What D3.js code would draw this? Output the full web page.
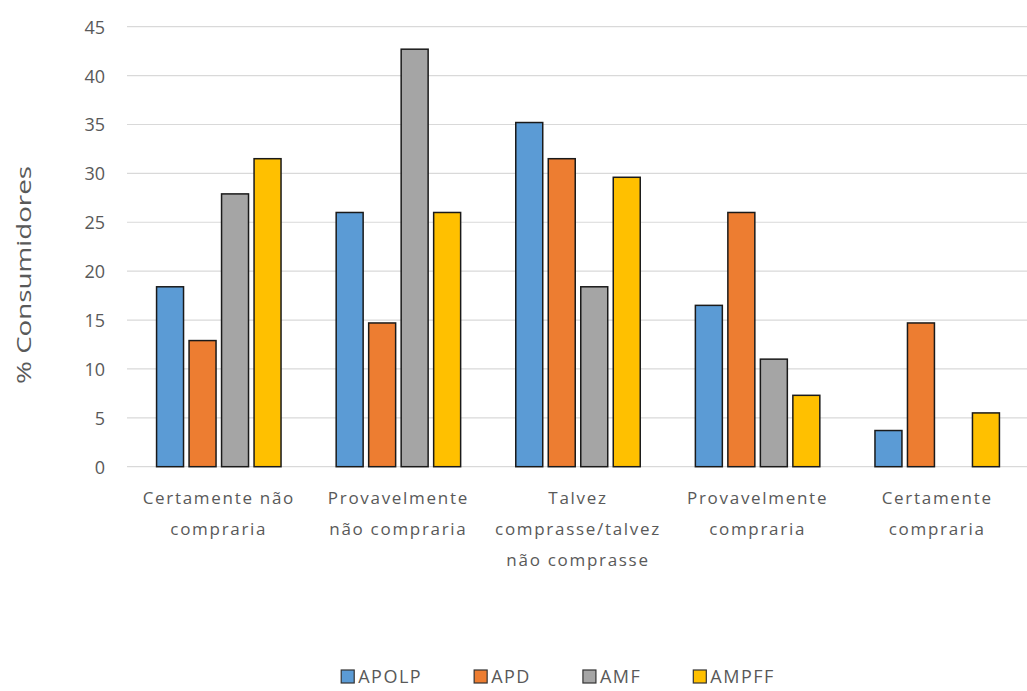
<!DOCTYPE html>
<html>
<head>
<meta charset="utf-8">
<script src="https://cdn.jsdelivr.net/npm/d3@7"></script>
<style>
  html, body { margin: 0; padding: 0; background: #ffffff; }
  svg { display: block; }
  text { font-family: "Open Sans", "Noto Sans", sans-serif; fill: #595959; }
</style>
</head>
<body>
<svg id="chart" width="1027" height="691"></svg>
<script>
// Purchase intention by product (% of consumers)
const categories = [
  ["Certamente não", "compraria"],
  ["Provavelmente", "não compraria"],
  ["Talvez", "comprasse/talvez", "não comprasse"],
  ["Provavelmente", "compraria"],
  ["Certamente", "compraria"]
];
const seriesNames = ["APOLP", "APD", "AMF", "AMPFF"];
const APOLP = [18.4, 26.0, 35.2, 16.5, 3.7];
const APD   = [12.9, 14.7, 31.5, 26.0, 14.7];
const AMF   = [27.9, 42.7, 18.4, 11.0, 0];
const AMPFF = [31.5, 26.0, 29.6, 7.3, 5.5];
const yTicks = [0, 5, 10, 15, 20, 25, 30, 35, 40, 45];
const colors = ["#5B9BD5", "#ED7D31", "#A5A5A5", "#FFC000"];

const seriesValues = [APOLP, APD, AMF, AMPFF];
const svg = d3.select("#chart");

const margin = { left: 129, right: 1027, top: 26.7, bottom: 466.7 };

const x0 = d3.scaleBand()
  .domain(d3.range(categories.length))
  .range([margin.left, margin.right])
  .paddingInner(0.307)
  .paddingOuter(0.1535);

const x1 = d3.scaleBand()
  .domain(seriesNames)
  .range([0, x0.bandwidth()])
  .paddingInner(0.17)
  .paddingOuter(0);

const y = d3.scaleLinear().domain([0, 45]).range([margin.bottom, margin.top]);

// Horizontal gridlines
svg.append("g")
  .selectAll("line")
  .data(yTicks)
  .join("line")
  .attr("x1", 127)
  .attr("x2", 1027)
  .attr("y1", d => y(d))
  .attr("y2", d => y(d))
  .attr("stroke", "#d9d9d9")
  .attr("stroke-width", 1.2);

// Y tick labels
const yAxis = d3.axisLeft(y).tickValues(yTicks).tickSize(0).tickPadding(0);
const yg = svg.append("g").attr("transform", "translate(105,0)").call(yAxis);
yg.select(".domain").remove();
yg.selectAll("text")
  .attr("fill", "#595959")
  .style("font-size", "18px")
  .attr("dy", "0.36em");

// Y axis title
svg.append("text")
  .attr("transform", "translate(31,275) rotate(-90)")
  .attr("text-anchor", "middle")
  .attr("textLength", 218)
  .attr("lengthAdjust", "spacingAndGlyphs")
  .style("font-size", "20px")
  .text("% Consumidores");

// Bars
const groups = svg.append("g")
  .selectAll("g")
  .data(categories.map((c, i) => i))
  .join("g")
  .attr("transform", i => `translate(${x0(i)},0)`);

groups.selectAll("rect")
  .data(i => seriesNames.map((name, s) => ({ name, s, value: seriesValues[s][i] })))
  .join("rect")
  .filter(d => d.value > 0)
  .attr("x", d => x1(d.name))
  .attr("width", x1.bandwidth())
  .attr("y", d => y(d.value))
  .attr("height", d => y(0) - y(d.value))
  .attr("fill", d => colors[d.s])
  .attr("stroke", "#1a1a1a")
  .attr("stroke-width", 1.5);

// Category labels
const xLabels = svg.append("g")
  .selectAll("text")
  .data(categories)
  .join("text")
  .attr("text-anchor", "middle")
  .attr("x", (d, i) => x0(i) + x0.bandwidth() / 2)
  .attr("y", 504)
  .style("font-size", "17px")
  .style("letter-spacing", "1.7px");

xLabels.selectAll("tspan")
  .data(d => d)
  .join("tspan")
  .attr("x", function () { return this.parentNode.getAttribute("x"); })
  .attr("dy", (d, j) => j === 0 ? 0 : 31)
  .text(d => d);

// Legend
const legend = svg.append("g");
const items = legend.selectAll("g")
  .data(seriesNames)
  .join("g");
items.append("rect")
  .attr("x", 0)
  .attr("y", 670)
  .attr("width", 13)
  .attr("height", 13)
  .attr("fill", (d, i) => colors[i])
  .attr("stroke", "#333")
  .attr("stroke-width", 1.2);
items.append("text")
  .attr("x", 17)
  .attr("y", 683)
  .style("font-size", "18px")
  .style("letter-spacing", "1.5px")
  .text(d => d);

let cursor = 0;
const offsets = [];
items.each(function () {
  const w = this.querySelector("text").getComputedTextLength() + 17;
  offsets.push(cursor);
  cursor += w + 52;
});
const totalWidth = cursor - 52;
const startX = 558 - totalWidth / 2;
items.attr("transform", (d, i) => `translate(${startX + offsets[i]},0)`);
</script>
</body>
</html>
